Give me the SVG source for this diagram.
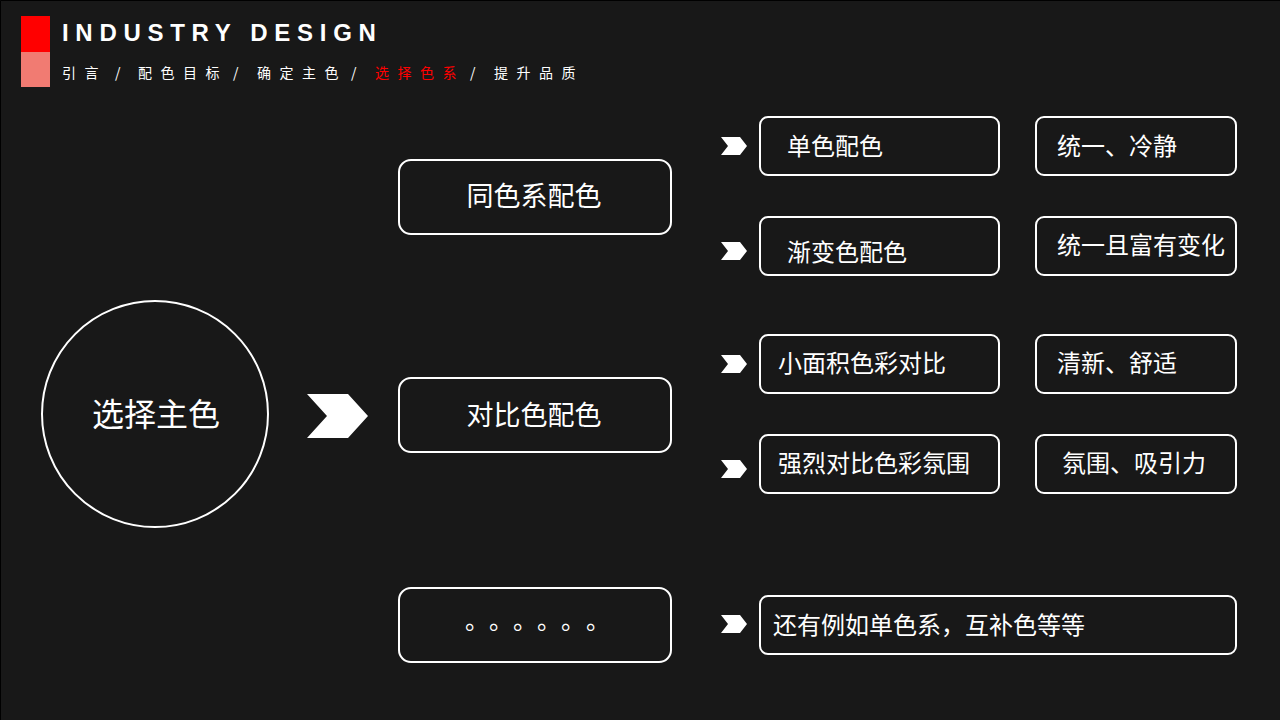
<svg xmlns="http://www.w3.org/2000/svg" width="1280" height="720" viewBox="0 0 1280 720">
<style>
.box{fill:none;stroke:#ffffff;stroke-width:2}
.t{font-family:"Noto Sans CJK SC","Liberation Sans",sans-serif;fill:#ffffff}
.t24{font-size:24px}
.t28{font-size:27px;text-anchor:middle}
.nav{font-family:"Noto Sans CJK SC","Liberation Sans",sans-serif;font-size:14px;fill:#ffffff;letter-spacing:8.5px}
.chev{fill:#ffffff}
</style>
<defs>
<polygon id="sch" points="0,-9 19,-9 26,0 19,9 0,9 7,0"/>
</defs>
<rect x="0" y="0" width="1280" height="720" fill="#181818"/>
<path d="M0.5,720 V0.5 H1280" fill="none" stroke="#000000" stroke-width="1"/>
<g id="header">
<rect x="21" y="16" width="29" height="36" fill="#ff0000"/>
<rect x="21" y="52" width="29" height="35" fill="#f17b72"/>
<text x="62" y="41" font-family="Liberation Sans,Arial,sans-serif" font-weight="bold" font-size="24" letter-spacing="6.7" fill="#ffffff">INDUSTRY DESIGN</text>
<text class="nav" y="78"><tspan x="62">引言</tspan><tspan x="115">/</tspan><tspan x="138">配色目标</tspan><tspan x="233">/</tspan><tspan x="257">确定主色</tspan><tspan x="351">/</tspan><tspan x="375" fill="#ff0000">选择色系</tspan><tspan x="470">/</tspan><tspan x="494">提升品质</tspan></text>
</g>
<g id="connectors">
<polygon class="chev" points="307,394 348,394 368,416 348,438 307,438 327,416"/>
<use href="#sch" class="chev" x="721" y="146"/>
<use href="#sch" class="chev" x="721" y="251"/>
<use href="#sch" class="chev" x="721" y="364"/>
<use href="#sch" class="chev" x="721" y="469"/>
<use href="#sch" class="chev" x="721" y="624"/>
</g>
<g id="root">
<circle cx="155" cy="414" r="113" class="box"/>
<text x="156" y="426" class="t" font-size="32" text-anchor="middle">选择主色</text>
</g>
<g id="same">
<rect x="399" y="160" width="272" height="74" rx="12" class="box"/>
<text x="534" y="206" class="t t28">同色系配色</text>
</g>
<g id="contrast">
<rect x="399" y="378" width="272" height="74" rx="12" class="box"/>
<text x="534" y="425" class="t t28">对比色配色</text>
</g>
<g id="more">
<rect x="399" y="588" width="272" height="74" rx="12" class="box"/>
<text y="629" class="t t24"><tspan x="465">。</tspan><tspan x="489">。</tspan><tspan x="513">。</tspan><tspan x="537">。</tspan><tspan x="561">。</tspan><tspan x="586">。</tspan></text>
</g>
<g id="mono">
<rect x="760" y="117" width="239" height="58" rx="8" class="box"/>
<text x="787" y="155" class="t t24">单色配色</text>
</g>
<g id="mono-effect">
<rect x="1036" y="117" width="200" height="58" rx="8" class="box"/>
<text x="1057" y="155" class="t t24">统一、冷静</text>
</g>
<g id="gradient">
<rect x="760" y="217" width="239" height="58" rx="8" class="box"/>
<text x="787" y="261" class="t t24">渐变色配色</text>
</g>
<g id="gradient-effect">
<rect x="1036" y="217" width="200" height="58" rx="8" class="box"/>
<text x="1057" y="254" class="t t24">统一且富有变化</text>
</g>
<g id="small">
<rect x="760" y="335" width="239" height="58" rx="8" class="box"/>
<text x="778" y="372" class="t t24">小面积色彩对比</text>
</g>
<g id="small-effect">
<rect x="1036" y="335" width="200" height="58" rx="8" class="box"/>
<text x="1057" y="372" class="t t24">清新、舒适</text>
</g>
<g id="strong">
<rect x="760" y="435" width="239" height="58" rx="8" class="box"/>
<text x="778" y="472" class="t t24">强烈对比色彩氛围</text>
</g>
<g id="strong-effect">
<rect x="1036" y="435" width="200" height="58" rx="8" class="box"/>
<text x="1062" y="472" class="t t24">氛围、吸引力</text>
</g>
<g id="others">
<rect x="760" y="596" width="476" height="58" rx="8" class="box"/>
<text x="773" y="634" class="t t24">还有例如单色系，互补色等等</text>
</g>
</svg>
